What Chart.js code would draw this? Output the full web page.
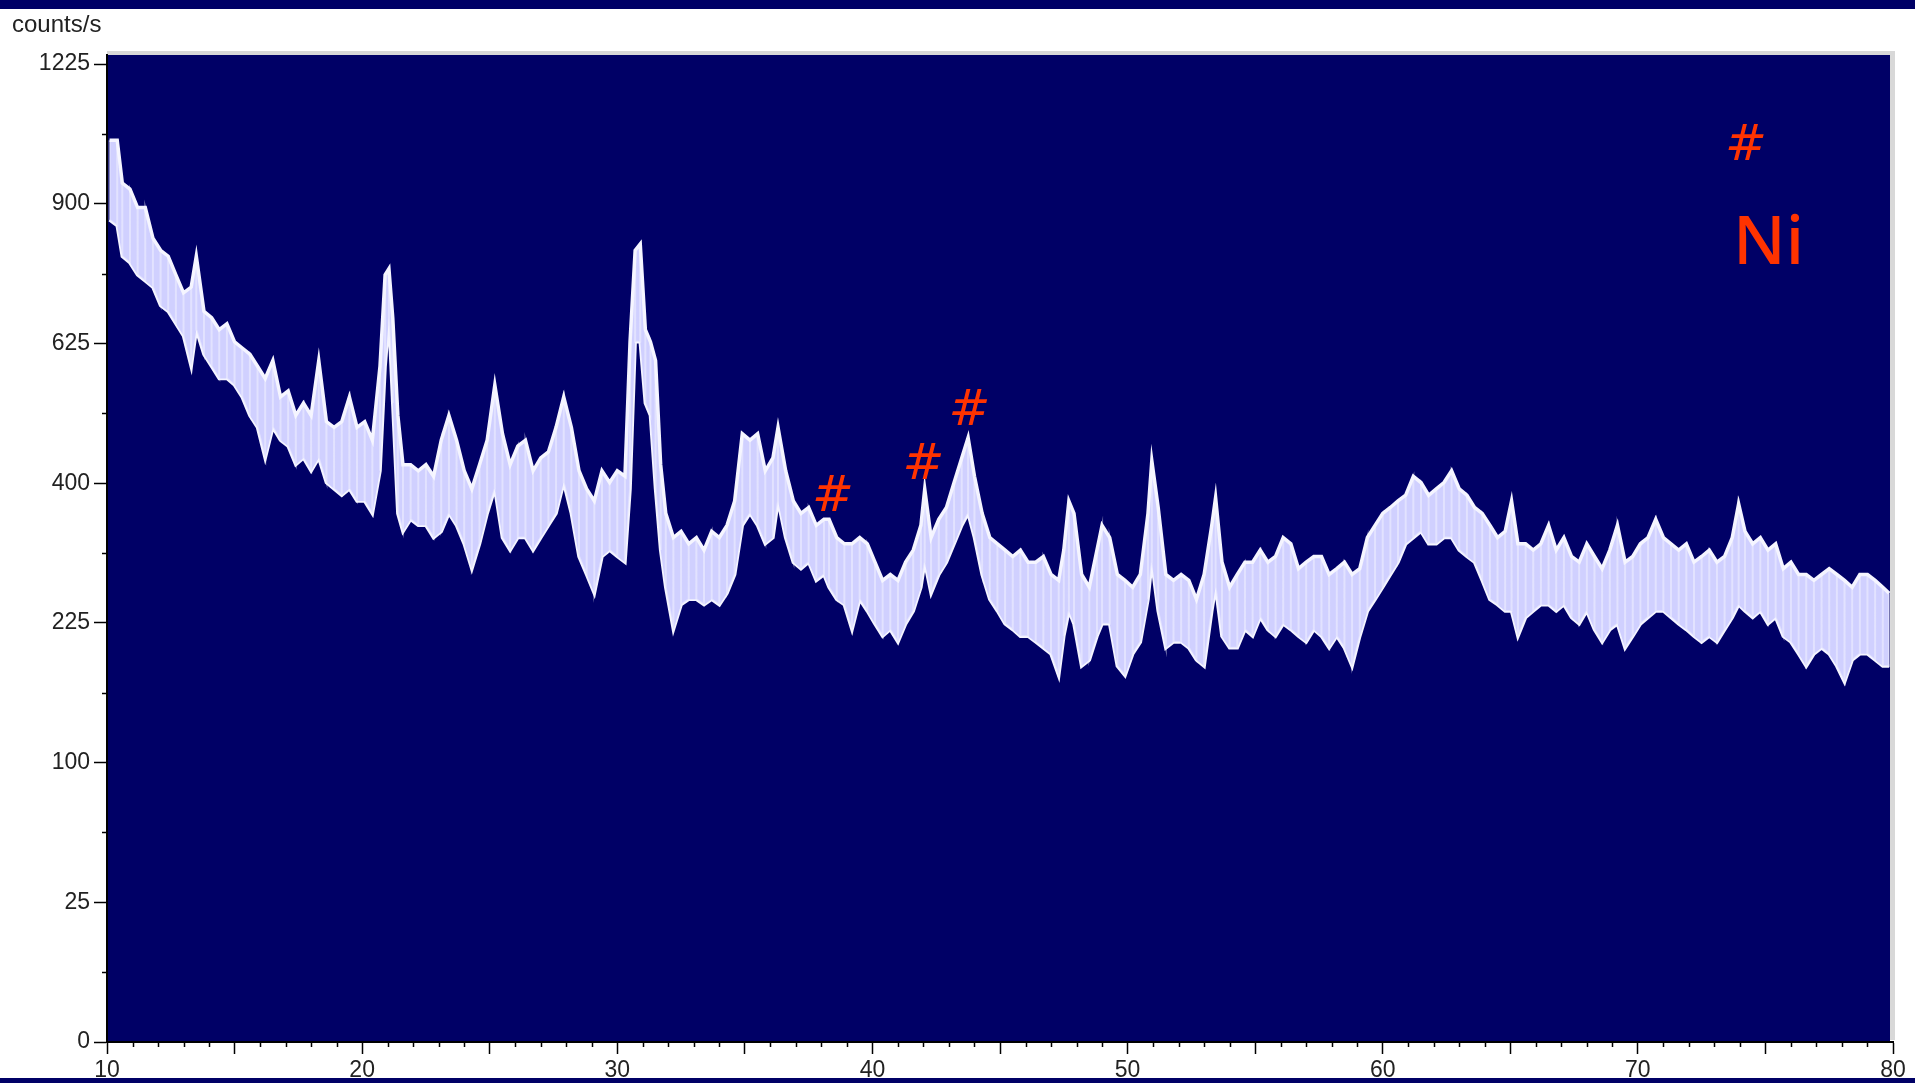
<!DOCTYPE html>
<html>
<head>
<meta charset="utf-8">
<script src="https://cdn.jsdelivr.net/npm/chart.js@4.4.1/dist/chart.umd.min.js"></script>
<style>
  html, body { margin: 0; padding: 0; background: #fff; overflow: hidden; }
</style>
</head>
<body>
<canvas id="xrdChart" width="1915" height="1083"></canvas>
<script>
// 2theta positions (deg) and the upper / lower edge of the noisy trace (counts/s)
const twoTheta = [
  10.1, 10.4, 10.6, 10.9,  11.2, 11.5, 11.8,  12.1, 12.4, 12.7,  13.0, 13.3, 13.5, 13.8,
  14.1, 14.4, 14.7,  15.0, 15.3, 15.6, 15.9,  16.2, 16.5, 16.8,  17.1, 17.4, 17.7,
  18.0, 18.3, 18.6, 18.9,  19.2, 19.5, 19.8,  20.1, 20.4, 20.7, 20.9,
  21.05, 21.2, 21.4, 21.6, 21.9,  22.2, 22.5, 22.8,  23.1, 23.4, 23.7,  24.0, 24.3, 24.6, 24.9,
  25.2, 25.5, 25.8,  26.1, 26.4, 26.7,  27.0, 27.3, 27.6, 27.9,  28.2, 28.5, 28.8,  29.1, 29.4, 29.7,
  30.0, 30.3, 30.5, 30.7, 30.9,  31.1, 31.3, 31.5, 31.7, 31.9,  32.2, 32.5, 32.8,  33.1, 33.4, 33.7,
  34.0, 34.3, 34.6, 34.9,  35.2, 35.5, 35.8,  36.1, 36.3, 36.6, 36.9,  37.2, 37.5, 37.8,
  38.1, 38.3, 38.6, 38.9,  39.2, 39.5, 39.8,  40.1, 40.4, 40.7,  41.0, 41.3, 41.6, 41.9,
  42.05, 42.3, 42.6, 42.9,  43.2, 43.5, 43.75,  44.0, 44.3, 44.6, 44.9,  45.2, 45.5, 45.8,
  46.1, 46.4, 46.7,  47.0, 47.3, 47.5, 47.7, 47.9,  48.2, 48.5, 48.8,  49.0, 49.3, 49.6, 49.9,
  50.2, 50.5, 50.8, 50.95,  51.2, 51.5, 51.8,  52.1, 52.4, 52.7,  53.0, 53.3, 53.45, 53.7,
  54.0, 54.3, 54.6, 54.9,  55.2, 55.5, 55.8,  56.1, 56.4, 56.7,  57.0, 57.3, 57.6, 57.9,
  58.2, 58.5, 58.8,  59.1, 59.4, 59.7,  60.0, 60.3, 60.6, 60.9,  61.2, 61.5, 61.8,
  62.1, 62.4, 62.7,  63.0, 63.3, 63.6, 63.9,  64.2, 64.5, 64.8,  65.05, 65.3, 65.6, 65.9,
  66.2, 66.5, 66.8,  67.1, 67.4, 67.7,  68.0, 68.3, 68.6, 68.9,  69.2, 69.5, 69.8,
  70.1, 70.4, 70.7,  71.0, 71.3, 71.6, 71.9,  72.2, 72.5, 72.8,  73.1, 73.4, 73.7, 73.95,
  74.2, 74.5, 74.8,  75.1, 75.4, 75.7,  76.0, 76.3, 76.6, 76.9,  77.2, 77.5, 77.8,
  78.1, 78.4, 78.7,  79.0, 79.3, 79.6, 79.85
];
const upperCounts = [
  1042, 1042, 945, 932,  892, 892, 828,  803, 791, 754,  719, 730, 791, 684,
  672, 650, 661,  628, 617, 606, 585,  564, 595, 533,  543, 503, 523,
  503, 595, 493, 484,  493, 533, 484,  493, 464, 585, 754,
  766, 672, 503, 427, 427,  418, 427, 410,  464, 503, 464,  418, 392, 427, 464,
  553, 474, 427,  455, 464, 418,  437, 446, 484, 533,  484, 418, 392,  375, 418, 401,
  418, 410, 628, 803, 816,  650, 628, 595, 427, 358,  326, 334, 318,  326, 310, 334,
  326, 342, 375, 474,  464, 474, 418,  437, 484, 418, 375,  358, 366, 342,
  350, 350, 326, 318,  318, 326, 318,  295, 273, 280,  273, 295, 310, 342,
  392, 326, 350, 366,  401, 437, 468,  410, 358, 326, 318,  310, 302, 310,
  295, 295, 302,  280, 273, 310, 375, 358,  280, 265, 310,  342, 326, 280, 273,
  265, 280, 358, 433,  366, 280, 273,  280, 273, 251,  280, 342, 380, 295,
  265, 280, 295, 295,  310, 295, 302,  326, 318, 287,  295, 302, 302, 280,
  287, 295, 280,  287, 326, 342,  358, 366, 375, 383,  410, 401, 383,
  392, 401, 418,  392, 383, 366, 358,  342, 326, 334,  375, 318, 318, 310,
  318, 342, 310,  326, 302, 295,  318, 302, 287, 310,  342, 295, 302,
  318, 326, 350,  326, 318, 310, 318,  295, 302, 310,  295, 302, 326, 371,
  334, 318, 326,  310, 318, 287,  295, 280, 280, 273,  280, 287, 280,
  273, 265, 280,  280, 273, 265, 258
];
const lowerCounts = [
  866, 854, 791, 778,  754, 742, 730,  695, 684, 661,  639, 585, 650, 606,
  585, 564, 564,  553, 533, 503, 484,  437, 484, 464,  455, 427, 437,
  418, 437, 401, 392,  383, 392, 375,  375, 358, 418, 585,
  672, 523, 358, 334, 350,  342, 342, 326,  334, 358, 342,  318, 287, 318, 358,
  392, 326, 310,  326, 326, 310,  326, 342, 358, 401,  358, 302, 280,  258, 302, 310,
  302, 295, 392, 628, 628,  523, 503, 392, 310, 265,  218, 245, 251,  251, 245, 251,
  245, 258, 280, 342,  358, 342, 318,  326, 375, 326, 295,  287, 295, 273,
  280, 265, 251, 245,  218, 251, 238,  224, 211, 218,  205, 224, 238, 265,
  295, 258, 280, 295,  318, 342, 358,  326, 280, 251, 238,  224, 218, 211,
  211, 205, 199,  193, 172, 211, 238, 224,  181, 187, 211,  224, 224, 181, 172,
  193, 205, 251, 295,  238, 199, 205,  205, 199, 187,  181, 238, 265, 211,
  199, 199, 218, 211,  231, 218, 211,  224, 218, 211,  205, 218, 211, 199,
  211, 199, 181,  211, 238, 251,  265, 280, 295, 318,  326, 334, 318,
  318, 326, 326,  310, 302, 295, 273,  251, 245, 238,  238, 211, 231, 238,
  245, 245, 238,  245, 231, 224,  238, 218, 205, 218,  224, 199, 211,
  224, 231, 238,  238, 231, 224, 218,  211, 205, 211,  205, 218, 231, 245,
  238, 231, 238,  224, 231, 211,  205, 193, 181, 193,  199, 193, 181,
  166, 187, 193,  193, 187, 181, 181
];

// axis ticks (y axis is square-root scaled)
const yTickValues = [0, 25, 100, 225, 400, 625, 900, 1225];
const yMinorValues = [6.25, 56.25, 156.25, 306.25, 506.25, 756.25, 1056.25];
const xMajorTicks = [10, 15, 20, 25, 30, 35, 40, 45, 50, 55, 60, 65, 70, 75, 80];
const xMinorTicks = [];
for (let v = 11; v < 80; v++) if (v % 5 !== 0) xMinorTicks.push(v);

// peak markers
const markX = [38.45, 42.0, 43.8];
const markY = [379, 425, 508];

// square-root value axis
class SqrtScale extends Chart.LinearScale {
  getPixelForValue(value) {
    if (value === null || value === undefined || isNaN(value)) return NaN;
    const lo = Math.sqrt(Math.max(this.min, 0));
    const hi = Math.sqrt(this.max);
    return this.getPixelForDecimal((Math.sqrt(Math.max(value, 0)) - lo) / (hi - lo));
  }
  getValueForPixel(pixel) {
    const lo = Math.sqrt(Math.max(this.min, 0));
    const hi = Math.sqrt(this.max);
    const s = lo + this.getDecimalForPixel(pixel) * (hi - lo);
    return s * s;
  }
}
SqrtScale.id = 'sqrt';
SqrtScale.defaults = {};
Chart.register(SqrtScale);

const upperPts = twoTheta.map((x, i) => ({ x: x, y: upperCounts[i] }));
const lowerPts = twoTheta.map((x, i) => ({ x: x, y: lowerCounts[i] }));
// up/down strokes between the two edges, gives the noisy look
const strokePts = [];
twoTheta.forEach((x, i) => {
  if (i % 2 === 0) {
    strokePts.push({ x: x, y: upperCounts[i] }, { x: x, y: lowerCounts[i] });
  } else {
    strokePts.push({ x: x, y: lowerCounts[i] }, { x: x, y: upperCounts[i] });
  }
});

const NAVY = '#000066';
const RED = '#ff3300';

const backdrop = {
  id: 'backdrop',
  beforeDraw(chart) {
    const c = chart.ctx, a = chart.chartArea;
    c.save();
    c.fillStyle = '#ffffff';
    c.fillRect(0, 0, chart.width, chart.height);
    c.fillStyle = NAVY;
    c.fillRect(0, 0, chart.width, 9);
    c.fillRect(0, chart.height - 5, chart.width, 5);
    c.fillRect(a.left, a.top, a.right - a.left - 3, a.bottom - a.top);
    c.fillStyle = '#d8d8d8';
    c.fillRect(a.left, a.top - 4, a.right - a.left + 2, 4);
    c.fillRect(a.right - 3, a.top - 4, 5, a.bottom - a.top + 2);
    c.restore();
  },
  afterDraw(chart) {
    const c = chart.ctx, a = chart.chartArea;
    const xs = chart.scales.x, ys = chart.scales.y;
    c.save();
    c.strokeStyle = '#000';
    c.lineWidth = 1.5;
    c.beginPath();
    xMinorTicks.forEach(v => {
      const px = Math.round(xs.getPixelForValue(v)) + 0.5;
      c.moveTo(px, a.bottom);
      c.lineTo(px, a.bottom + 5);
    });
    yMinorValues.forEach(v => {
      const py = Math.round(ys.getPixelForValue(v)) + 0.5;
      c.moveTo(a.left - 5, py);
      c.lineTo(a.left, py);
    });
    c.stroke();

    c.fillStyle = '#222';
    c.font = '24px "Liberation Sans", Arial, sans-serif';
    c.textAlign = 'left';
    c.textBaseline = 'middle';
    c.fillText('counts/s', 12, 25);

    // peak markers
    c.fillStyle = RED;
    c.textAlign = 'center';
    c.textBaseline = 'middle';
    c.font = 'italic 200 50px "DejaVu Sans", sans-serif';
    markX.forEach((x, i) => {
      c.fillText('#', xs.getPixelForValue(x), ys.getPixelForValue(markY[i]));
    });
    // legend
    c.fillText('#', a.right - 147, a.top + 92);
    c.font = '500 68px "Noto Sans", "DejaVu Sans", sans-serif';
    c.textAlign = 'left';
    c.textBaseline = 'alphabetic';
    c.fillText('Ni', a.right - 160, a.top + 209);
    c.restore();
  }
};

const tickFont = { family: '"Liberation Sans", Arial, sans-serif', size: 23 };

const chart = new Chart(document.getElementById('xrdChart').getContext('2d'), {
  type: 'line',
  data: {
    datasets: [{
      data: strokePts,
      borderColor: 'rgba(248, 248, 255, 0.45)',
      borderWidth: 2,
      fill: false
    }, {
      data: upperPts,
      borderColor: '#f4f4ff',
      borderWidth: 3.5,
      backgroundColor: '#d0d0ff',
      fill: '+1'
    }, {
      data: lowerPts,
      borderColor: '#f4f4ff',
      borderWidth: 3.5,
      fill: false
    }]
  },
  options: {
    responsive: false,
    animation: false,
    layout: { padding: { top: 55, right: 22, left: 0, bottom: 0 } },
    elements: { point: { radius: 0 }, line: { tension: 0 } },
    plugins: { legend: { display: false }, tooltip: { enabled: false } },
    scales: {
      x: {
        type: 'linear',
        min: 10,
        max: 80,
        afterBuildTicks: s => { s.ticks = xMajorTicks.map(v => ({ value: v })); },
        afterFit: s => { s.height = 41; },
        ticks: {
          autoSkip: false,
          maxRotation: 0,
          padding: 3,
          color: '#222',
          font: tickFont,
          callback: v => (v % 10 === 0 ? String(v) : '')
        },
        grid: { drawOnChartArea: false, tickLength: 12, tickColor: '#000', tickWidth: 1.5 },
        border: { color: '#000', width: 2 }
      },
      y: {
        type: 'sqrt',
        min: 0,
        max: 1248,
        afterBuildTicks: s => { s.ticks = yTickValues.map(v => ({ value: v })); },
        afterFit: s => { s.width = 107; },
        ticks: {
          autoSkip: false,
          padding: 4,
          color: '#222',
          font: tickFont,
          callback: v => String(v)
        },
        grid: { drawOnChartArea: false, tickLength: 13, tickColor: '#000', tickWidth: 1.5 },
        border: { color: '#000', width: 2 }
      }
    }
  },
  plugins: [backdrop]
});
</script>
</body>
</html>
